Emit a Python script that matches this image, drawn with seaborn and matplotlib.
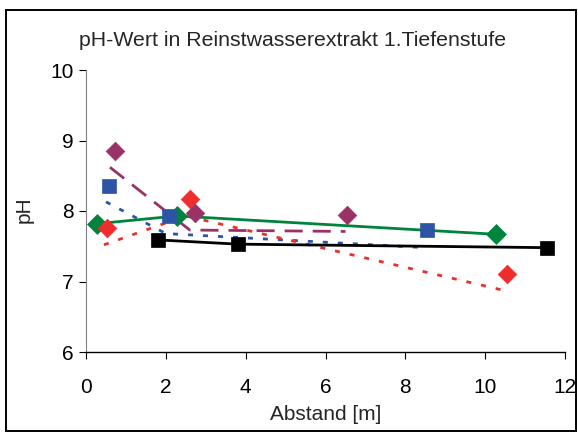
import matplotlib
matplotlib.use("Agg")
import matplotlib.pyplot as plt
import seaborn as sns
import pandas as pd
from matplotlib.patches import Rectangle

# Data
green_x = [0.28, 2.28, 10.26]
green_y = [7.82, 7.93, 7.67]
black_x = [1.80, 3.80, 11.55]
black_y = [7.59, 7.53, 7.48]
blue_x = [0.57, 2.07, 8.55]
blue_y = [8.36, 7.93, 7.73]
red_x = [0.53, 2.61, 10.55]
red_y = [7.76, 8.17, 7.10]
purple_x = [0.72, 2.72, 6.55]
purple_y = [8.85, 7.97, 7.94]
blue_line_x = [0.50, 2.00, 8.50]
blue_line_y = [8.13, 7.68, 7.48]
red_line_x = [0.45, 2.50, 10.50]
red_line_y = [7.52, 7.93, 6.87]
purple_line_x = [0.60, 2.60, 6.50]
purple_line_y = [8.62, 7.73, 7.71]

title = "pH-Wert in Reinstwasserextrakt 1.Tiefenstufe"
xlabel = "Abstand [m]"
ylabel = "pH"
xticks = [0, 2, 4, 6, 8, 10, 12]
yticks = [6, 7, 8, 9, 10]

sns.set_theme(style="white")
plt.rcParams['font.family'] = ['Liberation Sans', 'DejaVu Sans']

W, H = 578, 432
L, R, T, B = 86, 565, 70, 352
fig = plt.figure(figsize=(W/100, H/100), dpi=100)
ax = fig.add_axes([L/W, 1 - B/H, (R-L)/W, (B-T)/H])

GREEN = "#00843D"
RED = "#EE2E2E"
PURPLE = "#993366"
BLUE = "#2E55A5"
FS = 15

def df(x, y):
    return pd.DataFrame({"x": x, "y": y})

sns.lineplot(data=df(purple_line_x, purple_line_y), x="x", y="y", ax=ax,
             color=PURPLE, linewidth=2, linestyle=(0, (6.5, 3.6)))
sns.lineplot(data=df(blue_line_x, blue_line_y), x="x", y="y", ax=ax,
             color=BLUE, linewidth=2, linestyle=(0, (1.8, 3.6)))
sns.lineplot(data=df(red_line_x, red_line_y), x="x", y="y", ax=ax,
             color=RED, linewidth=2, linestyle=(0, (1.8, 3.6)))
sns.lineplot(data=df(green_x, green_y), x="x", y="y", ax=ax,
             color=GREEN, linewidth=2, marker="D", markersize=10,
             markeredgecolor=GREEN, markeredgewidth=0.5)
sns.lineplot(data=df(black_x, black_y), x="x", y="y", ax=ax,
             color="black", linewidth=2, marker="s", markersize=10.5,
             markeredgecolor="black", markeredgewidth=0.5)
sns.scatterplot(data=df(blue_x, blue_y), x="x", y="y", ax=ax,
                color=BLUE, marker="s", s=115, edgecolor=BLUE, linewidth=0.5, zorder=5)
sns.scatterplot(data=df(red_x, red_y), x="x", y="y", ax=ax,
                color=RED, marker="D", s=90, edgecolor=RED, linewidth=0.5, zorder=5)
sns.scatterplot(data=df(purple_x, purple_y), x="x", y="y", ax=ax,
                color=PURPLE, marker="D", s=90, edgecolor=PURPLE, linewidth=0.5, zorder=5)

ax.set_xlim(0, 12)
ax.set_ylim(6, 10)
ax.set_xticks(xticks)
ax.set_yticks(yticks)
ax.set_xticklabels([str(t) for t in xticks])
ax.set_yticklabels([str(t) for t in yticks])
ax.tick_params(axis="both", labelsize=FS, colors="black", direction="out",
               length=5, width=0.8, bottom=True, left=True)
ax.tick_params(axis="y", pad=4)
ax.tick_params(axis="x", pad=14)
ax.set_xlabel(xlabel, fontsize=FS, va="center")
ax.xaxis.set_label_coords(0.5, (B - 415) / (B - T))
ax.set_ylabel(ylabel, fontsize=FS, va="center")
ax.yaxis.set_label_coords((24 - L) / (R - L), (B - 210) / (B - T))
ax.set_title(title, fontsize=15.3, loc="left", x=(79 - L) / (R - L),
             y=(B - 40) / (B - T), va="center", pad=0)

for s in ["top", "right"]:
    ax.spines[s].set_visible(False)
ax.spines["left"].set_color("#808080")
ax.spines["left"].set_linewidth(0.8)
ax.spines["bottom"].set_color("black")
ax.spines["bottom"].set_linewidth(1.0)
ax.grid(False)
if ax.get_legend():
    ax.get_legend().remove()

fig.patches.append(Rectangle((6/W, 0.002), (576-6)/W, 1 - 10/H - 0.002,
                             transform=fig.transFigure, fill=False,
                             edgecolor="black", linewidth=1.4))

fig.savefig("out.png", dpi=100)
